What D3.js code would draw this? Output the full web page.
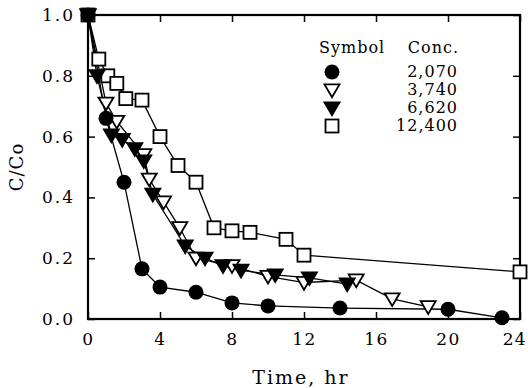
<!DOCTYPE html>
<html>
<head>
<meta charset="utf-8">
<script src="https://cdn.jsdelivr.net/npm/d3@7"></script>
<style>
  body { margin: 0; background: #fff; }
  text { font-family: "DejaVu Serif", "Liberation Serif", serif; fill: #000; }
</style>
</head>
<body>
<div id="chart"></div>
<script>

// series: [time hr, C/Co]
var conc2070 = [[0,1.0],[1,0.66],[2,0.45],[3,0.165],[4,0.105],[6,0.088],[8,0.053],[10,0.043],[14,0.036],[20,0.032],[23,0.004]];
var conc3740 = [[0,1.0],[1,0.71],[1.6,0.65],[3.1,0.54],[3.4,0.46],[4.2,0.385],[5.1,0.30],[6,0.20],[8,0.175],[10,0.14],[12,0.12],[14.9,0.128],[16.9,0.066],[18.9,0.04]];
var conc6620 = [[0,1.0],[0.5,0.80],[1.3,0.605],[1.9,0.59],[2.6,0.56],[3.1,0.52],[3.6,0.41],[5.4,0.24],[6.5,0.20],[7.5,0.175],[8.5,0.16],[10.4,0.145],[12.3,0.135],[14.4,0.115]];
var conc12400 = [[0,1.0],[0.6,0.855],[1.1,0.80],[1.6,0.775],[2.1,0.725],[3,0.72],[4,0.60],[5,0.505],[6,0.45],[7,0.30],[8,0.29],[9,0.285],[11,0.262],[12,0.21],[24,0.155]];

var seriesNames = ["2,070", "3,740", "6,620", "12,400"];
var seriesSymbols = ["circleFilled", "triOpen", "triFilled", "square"];
var xTicks = [0, 4, 8, 12, 16, 20, 24];
var yTicks = [0, 0.2, 0.4, 0.6, 0.8, 1.0];

var width = 528, height = 388;
var margin = {top: 15, right: 8, bottom: 69, left: 88};

var svg = d3.select("#chart").append("svg").attr("width", width).attr("height", height);

var x = d3.scaleLinear().domain([0, 24]).range([margin.left, width - margin.right]);
var y = d3.scaleLinear().domain([0, 1]).range([height - margin.bottom, margin.top]);

// frame with inward ticks on all sides
var axisStyle = function(g) {
  g.select(".domain").remove();
  g.selectAll("line").attr("stroke", "#000").attr("stroke-width", 1.5);
};

var xAxisG = svg.append("g").attr("transform", "translate(0," + y(0) + ")")
   .call(d3.axisBottom(x).tickValues(xTicks).tickSize(-7).tickPadding(14).tickFormat(d3.format("d")))
   .call(axisStyle);
xAxisG.selectAll("text").style("font-size", "17px").style("letter-spacing", "1.5px");
// last label sits against the page edge, as in the scan
xAxisG.selectAll("text").filter(function(d) { return d === 24; })
      .style("letter-spacing", "1px").attr("text-anchor", "end").attr("dx", "6px");

svg.append("g").attr("transform", "translate(0," + y(1) + ")")
   .call(d3.axisTop(x).tickValues(xTicks).tickSize(-7).tickFormat(""))
   .call(axisStyle);

svg.append("g").attr("transform", "translate(" + x(0) + ",0)")
   .call(d3.axisLeft(y).tickValues(yTicks).tickSize(-7).tickPadding(13).tickFormat(d3.format(".1f")))
   .call(axisStyle)
   .selectAll("text").style("font-size", "17px").style("letter-spacing", "2px");

svg.append("g").attr("transform", "translate(" + x(24) + ",0)")
   .call(d3.axisRight(y).tickValues(yTicks).tickSize(-7).tickFormat(""))
   .call(axisStyle);

svg.append("rect")
   .attr("x", x(0)).attr("y", y(1))
   .attr("width", x(24) - x(0)).attr("height", y(0) - y(1))
   .attr("fill", "none").attr("stroke", "#000").attr("stroke-width", 2.2);

// axis titles
svg.append("text")
   .attr("x", 301).attr("y", 384)
   .attr("text-anchor", "middle")
   .style("font-size", "19px").style("letter-spacing", "2px")
   .text("Time, hr");

svg.append("text")
   .attr("transform", "translate(23,167) rotate(-90)")
   .attr("text-anchor", "middle")
   .style("font-size", "18px").style("letter-spacing", "1px")
   .text("C/Co");

function drawSymbol(g, kind, cx, cy) {
  if (kind === "circleFilled") {
    g.append("circle").attr("cx", cx).attr("cy", cy).attr("r", 7.5).attr("fill", "#000");
  } else if (kind === "square") {
    g.append("rect").attr("x", cx - 6.5).attr("y", cy - 6.5).attr("width", 13).attr("height", 13)
     .attr("fill", "#fff").attr("stroke", "#000").attr("stroke-width", 1.8);
  } else {
    var s = 7.5;
    var pts = [[cx - s, cy - s * 0.75], [cx + s, cy - s * 0.75], [cx, cy + s * 0.95]];
    g.append("path").attr("d", "M" + pts.join("L") + "Z")
     .attr("fill", kind === "triFilled" ? "#000" : "#fff")
     .attr("stroke", "#000").attr("stroke-width", 1.8).attr("stroke-linejoin", "miter");
  }
}

var allSeries = [conc2070, conc3740, conc6620, conc12400];
var line = d3.line().x(function(d) { return x(d[0]); }).y(function(d) { return y(d[1]); });

// lines first, then markers
allSeries.forEach(function(data) {
  svg.append("path").datum(data).attr("d", line)
     .attr("fill", "none").attr("stroke", "#000").attr("stroke-width", 1.3);
});

// draw squares first so filled marks sit on top like the original
[3, 1, 2, 0].forEach(function(i) {
  var g = svg.append("g");
  allSeries[i].forEach(function(d) { drawSymbol(g, seriesSymbols[i], x(d[0]), y(d[1])); });
});

// legend
var legend = svg.append("g");
legend.append("text").attr("x", 319).attr("y", 53).style("font-size", "16px").style("letter-spacing", "1px").text("Symbol");
legend.append("text").attr("x", 459).attr("y", 53).attr("text-anchor", "end").style("font-size", "16px").style("letter-spacing", "1px").text("Conc.");

seriesNames.forEach(function(name, i) {
  var cy = 72 + i * 18;
  drawSymbol(legend, seriesSymbols[i], 332, cy);
  legend.append("text").attr("x", 458).attr("y", cy + 5)
        .attr("text-anchor", "end").style("font-size", "16px").style("letter-spacing", "1px").text(name);
});

</script>
</body>
</html>
